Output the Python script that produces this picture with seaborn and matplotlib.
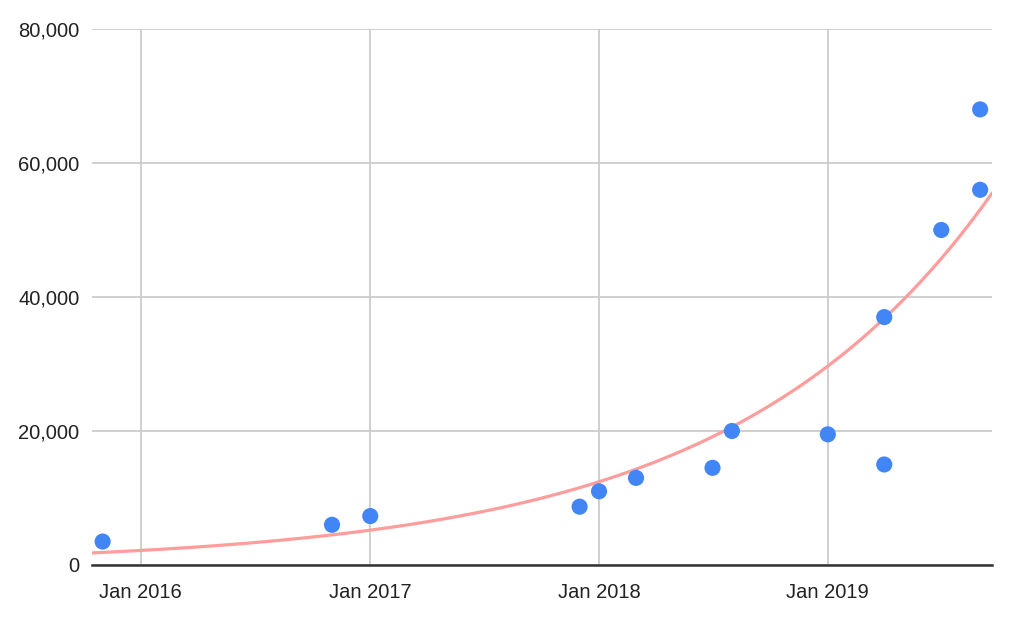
import pandas as pd
import numpy as np
import matplotlib
matplotlib.use("Agg")
import matplotlib.pyplot as plt
import matplotlib.dates as mdates
from matplotlib.ticker import FuncFormatter
import seaborn as sns

dates = ["2015-11-01", "2016-11-01", "2017-01-01", "2017-12-01", "2018-01-01",
         "2018-03-01", "2018-07-01", "2018-08-01", "2019-01-01", "2019-04-01",
         "2019-04-01", "2019-07-01", "2019-09-01", "2019-09-01"]
values = [3500, 6000, 7300, 8700, 11000, 13000, 14500, 20000, 19500, 15000,
          37000, 50000, 68000, 56000]
x_ticks = ["2016-01-01", "2017-01-01", "2018-01-01", "2019-01-01"]
y_ticks = [0, 20000, 40000, 60000, 80000]

# exponential trendline, values read at the two ends of the x range
trend_dates = ["2015-10-15", "2019-09-20"]
trend_values = [1800, 55500]

df = pd.DataFrame({"date": pd.to_datetime(dates), "value": values})

x_min, x_max = pd.to_datetime(trend_dates)

t0, t1 = mdates.date2num(x_min), mdates.date2num(x_max)
t_line = np.linspace(t0, t1, 200)
k = np.log(trend_values[1] / trend_values[0]) / (t1 - t0)
trend = pd.DataFrame({"date": mdates.num2date(t_line),
                      "value": trend_values[0] * np.exp(k * (t_line - t0))})
trend["date"] = pd.to_datetime(trend["date"]).dt.tz_localize(None)

sns.set_style("white")
plt.rcParams["font.family"] = ["Liberation Sans", "DejaVu Sans"]

fig = plt.figure(figsize=(10.24, 6.17), dpi=100)
ax = fig.add_axes([0.0898, 0.0843, 0.879, 0.8687])

sns.lineplot(data=trend, x="date", y="value", color="#ff9c9c", linewidth=2.3, ax=ax, zorder=2)
sns.scatterplot(data=df, x="date", y="value", color="#4285f4", s=135, edgecolor="none", ax=ax, zorder=3)

ax.set_xlim(x_min, x_max)
ax.set_ylim(0, 80000)
ax.set_xticks(pd.to_datetime(x_ticks))
ax.xaxis.set_major_formatter(mdates.DateFormatter("Jan %Y"))
ax.set_yticks(y_ticks)
ax.yaxis.set_major_formatter(FuncFormatter(lambda v, p: f"{int(v):,}"))

ax.grid(True, color="#cccccc", linewidth=1.3, zorder=0)
ax.set_axisbelow(True)
for s in ["top", "right", "left"]:
    ax.spines[s].set_visible(False)
ax.spines["bottom"].set_color("#333333")
ax.spines["bottom"].set_linewidth(1.8)
ax.tick_params(axis="both", length=0, labelsize=14.5, colors="#222222")
ax.tick_params(axis="x", pad=13)
ax.tick_params(axis="y", pad=9)
ax.set_xlabel("")
ax.set_ylabel("")

plt.savefig("out.png", dpi=100)
